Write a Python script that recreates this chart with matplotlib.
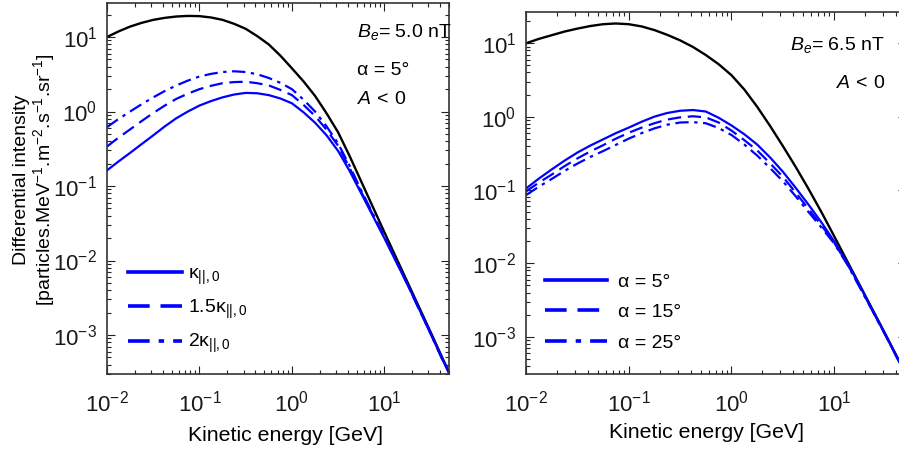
import matplotlib
matplotlib.use("Agg")
import numpy as np
import matplotlib.pyplot as plt
from matplotlib.lines import Line2D

plt.rcParams['font.family'] = ['Liberation Sans', 'DejaVu Sans']
plt.rcParams['mathtext.fontset'] = 'custom'
plt.rcParams['mathtext.rm'] = 'Liberation Sans'
plt.rcParams['mathtext.it'] = 'Liberation Sans:italic'
plt.rcParams['mathtext.bf'] = 'Liberation Sans:bold'

# ---------------- data (log10 units) ----------------
log_energy = [-2.0, -1.875, -1.75, -1.625, -1.5, -1.375, -1.25, -1.125, -1.0,
              -0.875, -0.75, -0.625, -0.5, -0.375, -0.25, -0.125, 0.0, 0.125,
              0.25, 0.375, 0.5, 0.625, 0.75, 0.875, 1.0, 1.125, 1.25, 1.375,
              1.5, 1.625, 1.7]

# left panel: B_e = 5.0 nT, alpha = 5 deg, A < 0
log_lis_left = [1.0, 1.075, 1.14, 1.19, 1.23, 1.257, 1.275, 1.283, 1.28, 1.262,
                1.23, 1.177, 1.11, 1.012, 0.90, 0.75, 0.58, 0.405, 0.21, -0.025,
                -0.28, -0.60, -0.94, -1.28, -1.62, -1.955, -2.29, -2.625, -2.96,
                -3.30, -3.50]
log_kappa_1 = [-0.79, -0.67, -0.555, -0.437, -0.32, -0.20, -0.09, 0.0, 0.08, 0.14,
               0.19, 0.228, 0.25, 0.245, 0.22, 0.175, 0.11, -0.01, -0.15, -0.32,
               -0.53, -0.80, -1.10, -1.40, -1.70, -2.01, -2.32, -2.65, -2.98,
               -3.32, -3.51]
log_kappa_15 = [-0.47, -0.35, -0.24, -0.128, -0.02, 0.08, 0.17, 0.24, 0.30, 0.345,
                0.38, 0.395, 0.40, 0.38, 0.35, 0.29, 0.22, 0.09, -0.06, -0.245,
                -0.46, -0.76, -1.08, -1.385, -1.69, -2.005, -2.32, -2.65, -2.98,
                -3.32, -3.51]
log_kappa_2 = [-0.21, -0.10, 0.0, 0.098, 0.19, 0.275, 0.35, 0.415, 0.47, 0.505,
               0.53, 0.54, 0.53, 0.50, 0.45, 0.385, 0.30, 0.16, 0.0, -0.20,
               -0.43, -0.73, -1.06, -1.37, -1.68, -2.0, -2.32, -2.65, -2.98,
               -3.32, -3.51]
left_labels = [r'κ$_{||,0}$', r'1.5κ$_{||,0}$', r'2κ$_{||,0}$']

# right panel: B_e = 6.5 nT, A < 0
log_lis_right = [1.0, 1.06, 1.11, 1.16, 1.20, 1.235, 1.26, 1.27, 1.26, 1.23,
                 1.18, 1.115, 1.04, 0.95, 0.84, 0.715, 0.565, 0.37, 0.135, -0.125,
                 -0.40, -0.685, -0.985, -1.30, -1.63, -1.965, -2.30, -2.635,
                 -2.97, -3.31, -3.51]
log_alpha_5 = [-0.98, -0.845, -0.72, -0.60, -0.49, -0.395, -0.31, -0.225, -0.15,
               -0.07, 0.0, 0.05, 0.08, 0.09, 0.07, -0.015, -0.12, -0.24, -0.38,
               -0.555, -0.75, -0.97, -1.20, -1.44, -1.70, -1.99, -2.31, -2.645,
               -2.98, -3.32, -3.52]
log_alpha_15 = [-1.02, -0.90, -0.79, -0.675, -0.57, -0.475, -0.39, -0.30, -0.22,
                -0.15, -0.09, -0.04, -0.01, 0.005, -0.01, -0.08, -0.19, -0.32,
                -0.46, -0.635, -0.82, -1.035, -1.26, -1.48, -1.72, -2.0, -2.32,
                -2.65, -2.98, -3.32, -3.52]
log_alpha_25 = [-1.07, -0.955, -0.85, -0.74, -0.64, -0.55, -0.47, -0.385, -0.30,
                -0.225, -0.16, -0.11, -0.08, -0.075, -0.09, -0.155, -0.25, -0.38,
                -0.53, -0.70, -0.88, -1.085, -1.30, -1.51, -1.73, -2.01, -2.33,
                -2.655, -2.98, -3.32, -3.52]
right_labels = ['α = 5°', 'α = 15°', 'α = 25°']

energy = np.power(10.0, log_energy)

def lin(v):
    return np.power(10.0, v)

# ---------------- styling ----------------
BLUE = '#0000ff'
styles = [dict(ls='-'), dict(ls=(0, (6, 3))), dict(ls=(0, (6, 2.5, 1.5, 2.5)))]

fig = plt.figure(figsize=(8.99, 4.55), dpi=100)
ax1 = fig.add_axes([107/899, 1-374/455, 342/899, 371/455])
ax2 = fig.add_axes([526/899, 1-374/455, 380/899, 362/455])

def style_axes(ax, ylim):
    ax.set_xscale('log')
    ax.set_yscale('log')
    ax.set_xlim(0.01, 50)
    ax.set_ylim(*ylim)
    ax.tick_params(which='both', direction='in', top=True, right=True,
                   width=0.8, colors='#222222', labelcolor='#1a1a1a')
    ax.tick_params(which='major', length=6, labelsize=16)
    ax.tick_params(which='minor', length=3)
    ax.tick_params(axis='x', which='major', pad=12)
    ax.tick_params(axis='y', which='major', pad=7)
    for s in ax.spines.values():
        s.set_linewidth(1.2)
        s.set_color('#333333')

# left panel
ax1.plot(energy, lin(log_lis_left), color='black', lw=1.7)
for ser, st in zip([log_kappa_1, log_kappa_15, log_kappa_2], styles):
    ax1.plot(energy, lin(ser), color=BLUE, lw=1.6, **st)
style_axes(ax1, (3e-4, 28.6))
h1 = [Line2D([], [], color=BLUE, lw=2.6, **st) for st in styles]
ax1.legend(h1, left_labels, loc='center left', bbox_to_anchor=(0.062, 0.172),
           frameon=False, fontsize=14, handlelength=2.75, handletextpad=0.3,
           labelspacing=0.58, borderpad=0, borderaxespad=0)
ax1.text(0.731, 0.908, r'$B_e$= 5.0 nT', transform=ax1.transAxes,
         fontsize=14, ha='left', va='baseline')
ax1.text(0.731, 0.806, 'α = 5°', transform=ax1.transAxes,
         fontsize=14, ha='left', va='baseline')
ax1.text(0.731, 0.728, r'$A\,<\,0$', transform=ax1.transAxes,
         fontsize=14, ha='left', va='baseline')
ax1.set_xlabel('Kinetic energy [GeV]', fontsize=15.3, va='top')
ax1.xaxis.set_label_coords(0.523, -0.14)

# right panel
ax2.plot(energy, lin(log_lis_right), color='black', lw=1.7)
for ser, st in zip([log_alpha_5, log_alpha_15, log_alpha_25], styles):
    ax2.plot(energy, lin(ser), color=BLUE, lw=1.6, **st)
style_axes(ax2, (3.1e-4, 26.7))
h2 = [Line2D([], [], color=BLUE, lw=2.6, **st) for st in styles]
ax2.legend(h2, right_labels, loc='center left', bbox_to_anchor=(0.05, 0.17),
           frameon=False, fontsize=14, handlelength=3.2, handletextpad=0.55,
           labelspacing=0.66, borderpad=0, borderaxespad=0)
ax2.text(0.945, 0.895, r'$B_e$= 6.5 nT', transform=ax2.transAxes,
         fontsize=14, ha='right', va='baseline')
ax2.text(0.945, 0.79, r'$A\,<\,0$', transform=ax2.transAxes,
         fontsize=14, ha='right', va='baseline')
ax2.set_xlabel('Kinetic energy [GeV]', fontsize=15.3, va='top')
ax2.xaxis.set_label_coords(0.4755, -0.135)

fig.text(35/899, 1-180/455,
         'Differential intensity\n[particles.MeV$^{-1}$.m$^{-2}$.s$^{-1}$.sr$^{-1}$]',
         rotation=90, ha='center', va='center', fontsize=14,
         multialignment='center', linespacing=1.05)

fig.savefig('out.png', dpi=100)
